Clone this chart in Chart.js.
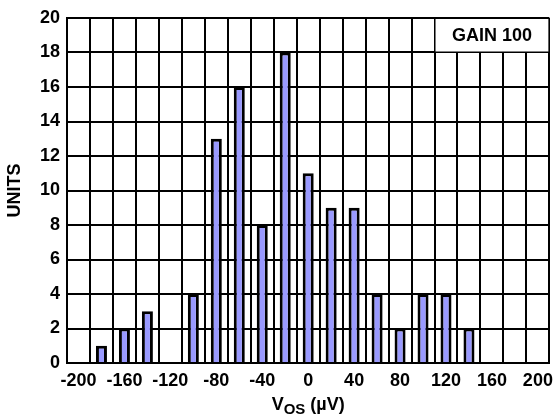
<!DOCTYPE html>
<html>
<head>
<meta charset="utf-8">
<script src="https://cdn.jsdelivr.net/npm/chart.js@4/dist/chart.umd.min.js"></script>
<style>
  html, body { margin: 0; padding: 0; background: #fff; }
  canvas { display: block; }
</style>
</head>
<body>
<canvas id="histChart" width="560" height="419"></canvas>
<script>
// Histogram bins (centre of each 20 µV bin) and counts
const bins = [-200, -180, -160, -140, -120, -100, -80, -60, -40, -20, 0, 20, 40, 60, 80, 100, 120, 140, 160, 180, 200];
const units = [0, 1, 2, 3, 0, 4, 13, 16, 8, 18, 11, 9, 9, 4, 2, 4, 4, 2, 0, 0, 0];
const yMax = 20;
const yStep = 2;
const boxLabel = "GAIN 100";

const FONT = "'Liberation Sans', Arial, sans-serif";

// Titles and the gain box drawn on top of the grid
const annotations = {
  id: "annotations",
  afterDraw(chart) {
    const { ctx, chartArea, scales } = chart;
    const x = scales.x, y = scales.y;
    const half = (x.getPixelForValue(1) - x.getPixelForValue(0)) / 2;

    // GAIN box in the top right cell
    const bx = x.getPixelForValue(16) - half;
    const by = y.getPixelForValue(18);
    ctx.save();
    ctx.fillStyle = "#fff";
    ctx.fillRect(bx + 1, chartArea.top + 1, chartArea.right - bx - 2, by - chartArea.top - 2);
    ctx.fillStyle = "#000";
    ctx.font = "bold 18px " + FONT;
    ctx.textAlign = "center";
    ctx.textBaseline = "middle";
    ctx.fillText(boxLabel, (bx + chartArea.right) / 2, (chartArea.top + by) / 2 + 1);

    // y title
    ctx.save();
    ctx.translate(15, (chartArea.top + chartArea.bottom) / 2);
    ctx.rotate(-Math.PI / 2);
    ctx.fillText("UNITS", 0, 0);
    ctx.restore();

    // x title with subscript
    const main = "bold 18px " + FONT, sub = "bold 15px " + FONT;
    ctx.textAlign = "left";
    ctx.textBaseline = "alphabetic";
    ctx.font = main;
    const w1 = ctx.measureText("V").width;
    const w3 = ctx.measureText(" (µV)").width;
    ctx.font = sub;
    const w2 = ctx.measureText("OS").width;
    let tx = (chartArea.left + chartArea.right) / 2 - (w1 + w2 + w3) / 2;
    const ty = 410;
    ctx.font = main;
    ctx.fillText("V", tx, ty);
    tx += w1;
    ctx.font = sub;
    ctx.fillText("OS", tx, ty + 4);
    tx += w2;
    ctx.font = main;
    ctx.fillText(" (µV)", tx, ty);
    ctx.restore();
  }
};

const ctx = document.getElementById("histChart").getContext("2d");
const histChart = new Chart(ctx, {
  type: "bar",
  data: {
    labels: bins.map(String),
    datasets: [
      {
        data: units,
        backgroundColor: "#9999ff",
        borderColor: "#000",
        borderWidth: 3,
        barPercentage: 0.48,
        categoryPercentage: 1,
      },
    ],
  },
  options: {
    responsive: false,
    animation: false,
    layout: { padding: { left: 0, top: 18, right: 4, bottom: 0 } },
    plugins: {
      legend: { display: false },
      tooltip: { enabled: false },
    },
    scales: {
      x: {
        afterFit: s => { s.height = 56; },
        grid: { color: "#000", lineWidth: 2, offset: true, drawTicks: false },
        border: { color: "#000", width: 2 },
        ticks: {
          autoSkip: false,
          maxRotation: 0,
          padding: 7,
          color: "#000",
          font: { family: FONT, size: 18, weight: "bold" },
          callback: (v, i) => (i % 2 === 0 ? bins[i] : ""),
        },
      },
      y: {
        min: 0,
        max: yMax,
        afterFit: s => { s.width = 67; },
        grid: { color: "#000", lineWidth: 2, drawTicks: false },
        border: { color: "#000", width: 2 },
        ticks: {
          stepSize: yStep,
          padding: 7,
          color: "#000",
          font: { family: FONT, size: 18, weight: "bold" },
        },
      },
    },
  },
  plugins: [annotations],
});
</script>
</body>
</html>
